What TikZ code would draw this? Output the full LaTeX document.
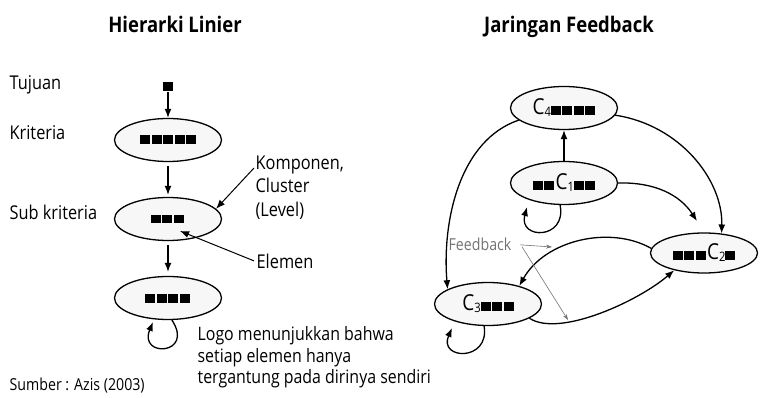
\documentclass[tikz,border=0pt]{standalone}
\usepackage{fontspec}
\setmainfont{Open Sans}[FakeStretch=0.86]
\usetikzlibrary{shapes.geometric,arrows.meta}
\newcommand\kotak{\rule{10pt}{9pt}\hspace{1.5pt}}
\newcommand\huruf[1]{{\fontsize{22}{22}\selectfont C}\raisebox{-2pt}{\fontsize{13}{13}\selectfont #1}}

\begin{document}
\begin{tikzpicture}[>={Latex[length=9pt,width=7pt]}, x=1pt, y=-1pt, line width=1.3pt,
  elips/.style={ellipse, draw, fill=gray!6, minimum width=107pt, minimum height=43pt, inner sep=0pt},
  teks/.style={font=\fontsize{19}{23}\selectfont, inner sep=0pt},
  judul/.style={font=\fontsize{21.5}{26}\selectfont\bfseries, inner sep=0pt},
  abu/.style={black!55, line width=0.6pt, >={Stealth[length=6pt,width=4pt]}}]
\useasboundingbox (0,0) rectangle (763,398);

% hierarki linier
\node[judul, anchor=base] (judulkiri) at (175,33) {Hierarki Linier};
\node[fill=black, minimum width=10pt, minimum height=9pt, inner sep=0pt] (tujuan) at (168,87) {};
\node[elips] (kriteria) at (168,140) {\kotak\kotak\kotak\kotak\kotak};
\node[elips] (sub) at (168,219) {\raisebox{-4pt}{\kotak\kotak\kotak}};
\node[elips] (bawah) at (168,298) {\raisebox{-4pt}{\kotak\kotak\kotak\kotak}};
\draw[->] (tujuan) -- (kriteria);
\draw[->, shorten <=4pt, shorten >=2pt] (kriteria) -- (sub);
\draw[->, shorten <=4pt, shorten >=4pt] (sub) -- (bawah);
\draw[->] (bawah.-80) .. controls (195,355) and (138,358) .. (153,322);

\node[teks, anchor=base west] (ltujuan) at (9,90) {Tujuan};
\node[teks, anchor=base west] (lkriteria) at (9,140) {Kriteria};
\node[teks, anchor=base west] (lsub) at (9,220) {Sub kriteria};
\node[teks, anchor=north west, align=left, font=\fontsize{19}{23.5}\selectfont] (komponen) at (255,155) {Komponen,\\Cluster\\(Level)};
\node[teks, anchor=base west] (elemen) at (256,268) {Elemen};
\coordinate (ujungkomp) at (254,168);
\coordinate (ujungelemen) at (180,231);
\draw[->, line width=1pt] (ujungkomp) -- (sub.12);
\draw[->, line width=1pt] ([xshift=-2pt]elemen.west) -- (ujungelemen);
\node[teks, anchor=north west, align=left, font=\fontsize{18.5}{21.5}\selectfont] (logo) at (197,326) {Logo menunjukkan bahwa\\setiap elemen hanya\\tergantung pada dirinya sendiri};
\node[teks, anchor=base west, font=\fontsize{16.5}{20}\selectfont] (sumber) at (9,390) {Sumber : Azis (2003)};

% jaringan feedback
\node[judul, anchor=base] (judulkanan) at (569,33) {Jaringan Feedback};
\node[elips] (c4) at (564,108) {\huruf{4}\kotak\kotak\kotak\kotak};
\node[elips] (c1) at (564,183) {\kotak\kotak\huruf{1}\kotak\kotak};
\node[elips, minimum height=40pt] (c2) at (704,253) {\kotak\kotak\kotak\huruf{2}\kotak};
\node[elips] (c3) at (488,304) {\huruf{3}\kotak\kotak\kotak};
\coordinate (c2atas) at (697,221);

\draw[->] (c1) -- (c4);
\draw[->] (c4.195) .. controls (460,140) and (442,220) .. (c3.160);
\draw[->] (c4.352) .. controls (680,125) and (723,180) .. (c2.48);
\draw[->] (c1.east) .. controls (655,182) and (680,195) .. (c2atas);
\draw[->] (c2.175) .. controls (610,225) and (545,240) .. (c3.30);
\draw[->] (c3.341) .. controls (560,338) and (640,300) .. (c2.210);
\draw[->] (c1.-100) .. controls (567,240) and (518,240) .. (527,207);
\draw[->] (c3.-100) .. controls (490,362) and (438,360) .. (452,328);

\node[teks, anchor=base west, text=black!55, font=\fontsize{16.5}{20}\selectfont] (feedback) at (448,251) {Feedback};
\coordinate (fbkanan) at (552,247);
\coordinate (fbbawah) at (568,320);
\draw[->, abu] ([xshift=8pt]feedback.east) -- (fbkanan);
\draw[->, abu] ([xshift=10pt,yshift=-2pt]feedback.east) -- (fbbawah);
\end{tikzpicture}
\end{document}
